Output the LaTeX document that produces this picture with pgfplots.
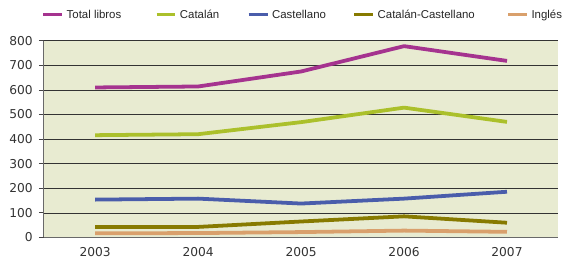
\documentclass[border=0pt]{standalone}
\usepackage{pgfplots}
\pgfplotsset{compat=1.18}
\usepackage{fontspec}
\setmainfont{Liberation Sans}
\newfontfamily\tickfont{DejaVu Sans}
\definecolor{ctotal}{HTML}{A5338F}
\definecolor{ccat}{HTML}{ABC02B}
\definecolor{ccas}{HTML}{4A5DAB}
\definecolor{ccc}{HTML}{877A00}
\definecolor{cing}{HTML}{D9A06C}
\definecolor{cbg}{HTML}{E8EBD1}
\definecolor{cax}{HTML}{444444}
\begin{document}
\begin{tikzpicture}
\path (0pt,0pt) rectangle (562pt,259pt);
\begin{axis}[
  at={(44pt,20pt)}, anchor=south west,
  scale only axis, width=518pt, height=198pt,
  xmin=-0.5, xmax=4.5, ymin=0, ymax=800,
  axis background/.style={fill=cbg},
  axis x line*=bottom, axis y line*=left,
  axis line style={cax!80, line width=0.8pt},
  x axis line style={-}, y axis line style={-},
  xtick={0,1,2,3,4},
  xticklabels={2003,2004,2005,2006,2007},
  x tick style={draw=none},
  extra x ticks={0.5,1.5,2.5,3.5},
  extra x tick labels={},
  extra x tick style={tick style={draw=cax, line width=0.8pt}, major tick length=6pt, tick align=outside, grid=none},
  ytick={0,100,...,800},
  y tick style={cax, line width=0.8pt},
  major tick length=5pt, tick align=outside,
  ymajorgrids, major grid style={black!80, line width=0.7pt},
  tick label style={font=\tickfont\fontsize{12.3}{14}\selectfont, text=black!80},
  /pgf/number format/assume math mode=true,
  yticklabel style={xshift=-2.5pt},
  xticklabel style={yshift=-1pt},
  legend columns=5,
  legend cell align=left,
  legend style={draw=none, fill=none, inner sep=0pt, at={(-0.004,1.131)}, anchor=west,
    font=\fontsize{11.5}{13}\selectfont, text=black!85,
    nodes={inner sep=0pt},
    /tikz/every odd column/.style={column sep=3pt},
    /tikz/every even column/.style={column sep=0pt}},
  legend image code/.code={\draw[line width=3pt] (0pt,0pt) -- (19pt,0pt);},
  every axis plot/.append style={line width=3.8pt, line join=round},
]
\addplot[ctotal] coordinates {(0,610) (1,614) (2,675) (3,778) (4,718)};
\addlegendentry{Total libros\hspace*{34pt}}
\addplot[ccat] coordinates {(0,416) (1,420) (2,469) (3,528) (4,470)};
\addlegendentry{Catalán\hspace*{28pt}}
\addplot[ccas] coordinates {(0,154) (1,158) (2,138) (3,158) (4,186)};
\addlegendentry{Castellano\hspace*{27pt}}
\addplot[ccc] coordinates {(0,43) (1,43) (2,65) (3,86) (4,60)};
\addlegendentry{Catalán-Castellano\hspace*{32pt}}
\addplot[cing] coordinates {(0,17) (1,18) (2,22) (3,28) (4,23)};
\addlegendentry{Inglés}
\end{axis}
\end{tikzpicture}
\end{document}
